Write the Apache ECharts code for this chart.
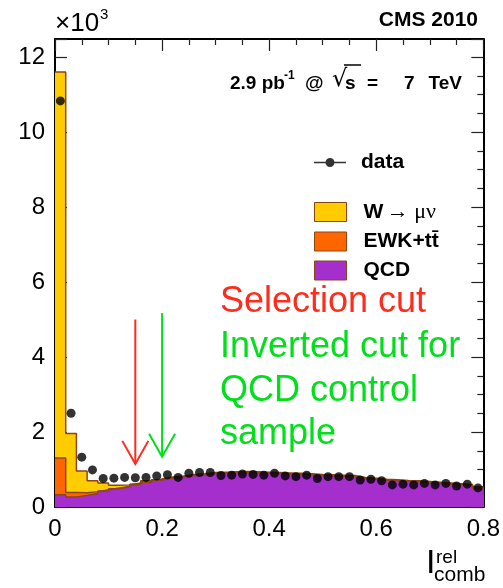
<!DOCTYPE html>
<html><head><meta charset="utf-8">
<script src="https://cdn.jsdelivr.net/npm/echarts@6/dist/echarts.min.js"></script>
<style>html,body{margin:0;padding:0;background:#fff}#c{width:503px;height:588px}</style>
</head><body><div id="c"></div>
<script>
// bin lower edges (bin width 0.02)
const binLow = [0.00,0.02,0.04,0.06,0.08,0.10,0.12,0.14,0.16,0.18,0.20,0.22,0.24,0.26,0.28,0.30,0.32,0.34,0.36,0.38,
                0.40,0.42,0.44,0.46,0.48,0.50,0.52,0.54,0.56,0.58,0.60,0.62,0.64,0.66,0.68,0.70,0.72,0.74,0.76,0.78];
const binWidth = 0.02;
// values in units of 10^3 events
const qcd = [0.33,0.27,0.31,0.36,0.43,0.49,0.54,0.60,0.66,0.72,0.77,0.80,0.84,0.86,0.89,0.90,0.91,0.92,0.91,0.90,
             0.89,0.88,0.87,0.86,0.84,0.83,0.82,0.81,0.76,0.74,0.71,0.70,0.68,0.67,0.65,0.63,0.61,0.59,0.57,0.51];
const ewk = [0.98,0.12,0.07,0.05,0.03,0.02,0.01,0.01,0.01,0.01,0.01,0.01,0.01,0.01,0.01,0.01,0.01,0.01,0.01,0.01,
             0.01,0.01,0.01,0.01,0.01,0.01,0.01,0.01,0.01,0.01,0.01,0.01,0.01,0.01,0.01,0.01,0.01,0.01,0.01,0.01];
const wmunu = [10.29,1.57,0.58,0.29,0.18,0.07,0.04,0.03,0.03,0.02,0.02,0.02,0.02,0.02,0.02,0.02,0.02,0.02,0.02,0.02,
               0.02,0.02,0.02,0.02,0.02,0.02,0.02,0.02,0.02,0.02,0.02,0.02,0.02,0.02,0.02,0.02,0.02,0.02,0.02,0.02];
const dataVals = [10.83,2.50,1.33,0.99,0.76,0.77,0.79,0.78,0.79,0.83,0.86,0.79,0.90,0.92,0.92,0.84,0.85,0.88,0.87,0.85,
                  0.90,0.83,0.81,0.85,0.76,0.81,0.81,0.81,0.72,0.74,0.70,0.59,0.61,0.59,0.63,0.59,0.63,0.56,0.61,0.51];
// arrows: [x, y start, y tip]
const cutArrow = [[0.15, 5.00, 1.15]];
const invArrow = [[0.20, 5.17, 1.34]];
const xTicks = {min: 0, max: 0.8, interval: 0.2};
const yTicks = {min: 0, max: 12.48, interval: 2};

const C_W = '#ffcc00', C_EWK = '#ff6600', C_QCD = '#a52fcc', C_LINE = '#8b4513';
const RED = '#ff2b1c', GREEN = '#00e01a';
const FONT = 'Liberation Sans, Arial, Helvetica, sans-serif';

// cumulative stack (QCD bottom, EWK, W top)
const cumQcd = qcd.slice();
const cumEwk = qcd.map((v, i) => v + ewk[i]);
const cumW = cumEwk.map((v, i) => v + wmunu[i]);

function stepPoints(vals) {
  const pts = binLow.map((x, i) => [x, vals[i]]);
  pts.push([binLow[binLow.length - 1] + binWidth, vals[vals.length - 1]]);
  return pts;
}

function arrowItem(params, api) {
  const top = api.coord([api.value(0), api.value(1)]);
  const tip = api.coord([api.value(0), api.value(2)]);
  const c = api.visual('color');
  return {type: 'group', children: [
    {type: 'line', shape: {x1: top[0], y1: top[1], x2: tip[0], y2: tip[1]}, style: {stroke: c, lineWidth: 2}},
    {type: 'polyline', shape: {points: [[tip[0] - 13, tip[1] - 23], [tip[0], tip[1]], [tip[0] + 13, tip[1] - 23]]},
     style: {stroke: c, lineWidth: 2, fill: null}}
  ]};
}

function axisCommon(extra) {
  return Object.assign({
    type: 'value',
    axisLine: {show: true, onZero: false, lineStyle: {color: '#000', width: 2}},
    axisTick: {show: true, inside: true, length: 12, lineStyle: {color: '#222', width: 1.2}},
    minorTick: {show: true, splitNumber: 4, length: 6, lineStyle: {color: '#222', width: 1.2}},
    splitLine: {show: false},
    minorSplitLine: {show: false}
  }, extra);
}

function histSeries(name, vals, fill) {
  return {type: 'line', name: name, step: 'end', symbol: 'none', data: stepPoints(vals),
    lineStyle: {color: C_LINE, width: 1.5}, areaStyle: {color: fill, opacity: 1, origin: 'start'},
    itemStyle: {color: fill}, z: 2};
}

const chart = echarts.init(document.getElementById('c'), null, {renderer: 'canvas'});
const option = {
  animation: false,
  backgroundColor: '#fff',
  grid: {left: 55, right: 16, top: 39, bottom: 81},
  xAxis: [
    axisCommon(Object.assign({position: 'bottom',
      axisLabel: {fontSize: 24, color: '#000', margin: 10, fontFamily: FONT}}, xTicks)),
    axisCommon(Object.assign({position: 'top', axisLabel: {show: false}}, xTicks))
  ],
  yAxis: [
    axisCommon(Object.assign({position: 'left',
      axisLabel: {fontSize: 24, color: '#000', margin: 10, fontFamily: FONT,
        formatter: v => (Math.abs(v % 2) < 1e-6 ? String(v) : '')}}, yTicks)),
    axisCommon(Object.assign({position: 'right', axisLabel: {show: false}}, yTicks))
  ],
  legend: [
    {
      data: [{name: 'data', icon: 'path://M0,4.25H32V5.75H0Z M20.5,5A4.5,4.5,0,1,1,11.5,5A4.5,4.5,0,1,1,20.5,5Z',
              itemStyle: {color: '#000'}}],
      orient: 'vertical', left: 309, top: 147, itemWidth: 32, itemHeight: 10,
      selectedMode: false,
      textStyle: {fontSize: 21, fontWeight: 'bold', fontFamily: FONT, color: '#000', padding: [0, 0, 0, 10]}
    },
    {
      data: [
        {name: 'W', icon: 'rect', itemStyle: {color: C_W, borderColor: C_LINE, borderWidth: 1}},
        {name: 'EWK', icon: 'rect', itemStyle: {color: C_EWK, borderColor: C_LINE, borderWidth: 1}},
        {name: 'QCD', icon: 'rect', itemStyle: {color: C_QCD, borderColor: C_LINE, borderWidth: 1}}
      ],
      orient: 'vertical', left: 309, top: 196, itemWidth: 32, itemHeight: 19, itemGap: 8,
      selectedMode: false,
      formatter: n => n === 'W' ? '{b|W} {s|\u2192 \u03bc\u03bd}' : (n === 'EWK' ? '{b|EWK+tt\u0304}' : '{b|QCD}'),
      textStyle: {color: '#000', padding: [0, 0, 0, 12],
        rich: {
          b: {fontSize: 21, fontWeight: 'bold', fontFamily: FONT, color: '#000'},
          s: {fontSize: 22, fontFamily: 'Liberation Serif, DejaVu Serif, serif', color: '#000'}
        }}
    }
  ],
  series: [
    histSeries('W', cumW, C_W),
    histSeries('EWK', cumEwk, C_EWK),
    histSeries('QCD', cumQcd, C_QCD),
    {type: 'scatter', name: 'data', symbol: 'circle', symbolSize: 9,
     data: binLow.map((x, i) => [x + binWidth / 2, dataVals[i]]), itemStyle: {color: '#000'}, z: 5},
    {type: 'custom', name: 'cut', renderItem: arrowItem, data: cutArrow, itemStyle: {color: RED}, z: 6, silent: true},
    {type: 'custom', name: 'inv', renderItem: arrowItem, data: invArrow, itemStyle: {color: GREEN}, z: 6, silent: true}
  ],
  graphic: [
    {type: 'text', x: 55, y: 24, style: {text: '\u00d710', font: '26px ' + FONT, fill: '#000', verticalAlign: 'middle'}},
    {type: 'text', x: 100, y: 15, style: {text: '3', font: '15px ' + FONT, fill: '#000', verticalAlign: 'middle'}},
    {type: 'text', x: 478, y: 20, style: {text: 'CMS 2010', font: 'bold 21px ' + FONT, fill: '#000', align: 'right', verticalAlign: 'middle'}},
    {type: 'text', x: 230, y: 84, style: {text: '2.9 pb', font: 'bold 19px ' + FONT, fill: '#000', verticalAlign: 'middle'}},
    {type: 'text', x: 284, y: 76, style: {text: '-1', font: 'bold 12px ' + FONT, fill: '#000', verticalAlign: 'middle'}},
    {type: 'text', x: 305, y: 84, style: {text: '@', font: 'bold 19px ' + FONT, fill: '#000', verticalAlign: 'middle'}},
    {type: 'text', x: 332, y: 80, style: {text: '\u221a', font: '24px DejaVu Sans, sans-serif', fill: '#000', verticalAlign: 'middle'}},
    {type: 'text', x: 345, y: 84, style: {text: 's', font: 'bold 19px ' + FONT, fill: '#000', verticalAlign: 'middle'}},
    {type: 'line', shape: {x1: 344, y1: 65, x2: 361, y2: 65}, style: {stroke: '#000', lineWidth: 1.5}},
    {type: 'text', x: 367, y: 84, style: {text: '=', font: 'bold 19px ' + FONT, fill: '#000', verticalAlign: 'middle'}},
    {type: 'text', x: 404, y: 84, style: {text: '7', font: 'bold 19px ' + FONT, fill: '#000', verticalAlign: 'middle'}},
    {type: 'text', x: 462, y: 84, style: {text: 'TeV', font: 'bold 19px ' + FONT, fill: '#000', align: 'right', verticalAlign: 'middle'}},
    {type: 'text', x: 220, y: 302, style: {text: 'Selection cut', font: '36px ' + FONT, fill: RED, verticalAlign: 'middle'}},
    {type: 'text', x: 220, y: 347, style: {text: 'Inverted cut for', font: '36px ' + FONT, fill: GREEN, verticalAlign: 'middle'}},
    {type: 'text', x: 220, y: 391, style: {text: 'QCD control', font: '36px ' + FONT, fill: GREEN, verticalAlign: 'middle'}},
    {type: 'text', x: 220, y: 434, style: {text: 'sample', font: '36px ' + FONT, fill: GREEN, verticalAlign: 'middle'}},
    {type: 'text', x: 426, y: 564, style: {text: 'I', font: '34px ' + FONT, fill: '#000', verticalAlign: 'middle'}},
    {type: 'text', x: 436, y: 558, style: {text: 'rel', font: '19px ' + FONT, fill: '#000', verticalAlign: 'middle'}},
    {type: 'text', x: 434, y: 575, style: {text: 'comb', font: '21px ' + FONT, fill: '#000', verticalAlign: 'middle'}}
  ]
};
chart.setOption(option);
</script>
</body></html>
